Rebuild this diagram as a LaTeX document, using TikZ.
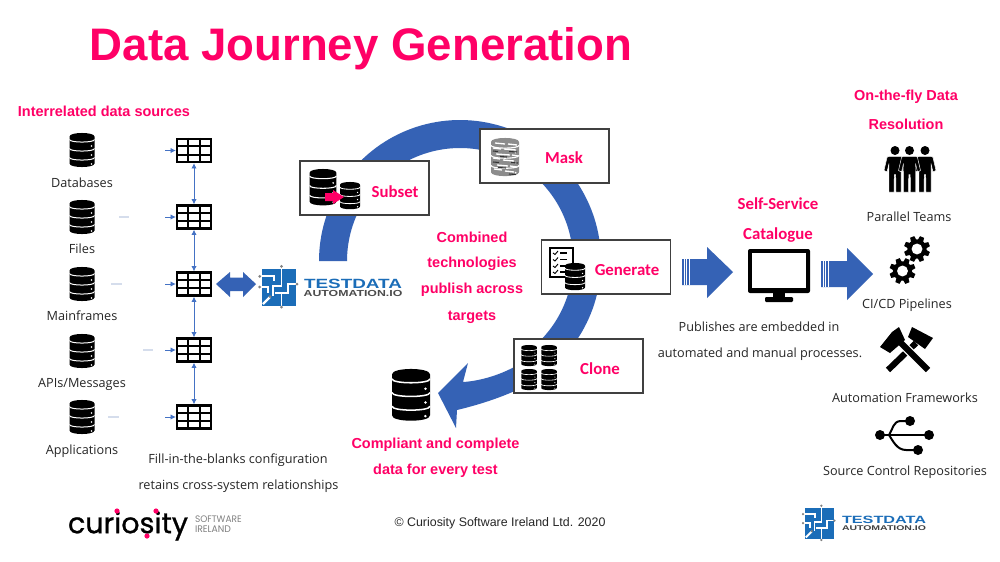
\documentclass[tikz,border=0pt]{standalone}
\usepackage{fontspec}
\usepackage{graphicx}
\usetikzlibrary{arrows.meta,calc}
\setmainfont{Carlito}
\newfontfamily\arialf{Liberation Sans}
\newfontfamily\uifont{Open Sans}
\newfontfamily\popf{Poppins}
\newfontfamily\popm[FakeBold=.9]{Poppins}
\definecolor{hotpink}{HTML}{FF0066}
\definecolor{ringblue}{HTML}{3562B5}
\definecolor{logoblue}{HTML}{1B6DB8}
\definecolor{linkblue}{HTML}{4472C4}
\definecolor{faintblue}{HTML}{D5DDEC}
\definecolor{boxgray}{HTML}{404040}
\tikzset{
  txt/.style={inner sep=0pt,outer sep=0pt,align=center},
  fixedline/.style={text height=1em,text depth=.2em},
  titletext/.style={txt,text=hotpink,font=\arialf\bfseries\fontsize{34.2}{40}\selectfont},
  pinkhead/.style={txt,fixedline,text=hotpink,font=\arialf\bfseries\fontsize{10.85}{13}\selectfont},
  pinkcal/.style={txt,fixedline,text=hotpink,font=\bfseries\fontsize{12.6}{16}\selectfont},
  plain/.style={txt,fixedline,text=black!85,font=\uifont\fontsize{9.5}{11}\selectfont},
  foot/.style={txt,text=black!85,font=\arialf\fontsize{9.3}{11}\selectfont},
  stagebox/.style={draw=boxgray,fill=white,line width=.9pt,minimum width=96.75pt,minimum height=40.5pt,inner sep=0pt},
  tablebox/.style={draw=black,fill=white,line width=1.7pt,minimum width=25.5pt,minimum height=17.25pt,inner sep=0pt,outer sep=.85pt},
  gridline/.style={black,line width=1.2pt},
  link/.style={linkblue,line width=.7pt,{Latex[length=4pt,width=4pt]}-{Latex[length=4pt,width=4pt]}},
  feed/.style={linkblue,line width=.6pt,-{Latex[length=4pt,width=4pt]}},
  faint/.style={faintblue,line width=.8pt},
  blueshape/.style={fill=ringblue,draw=none},
}
\newcommand\dbicon[4][black]{%
\begin{scope}[shift={(#2,#3)},scale=#4]
\fill[#1] (-12.5,3.5) .. controls (-12.5,-1.2) and (12.5,-1.2) .. (12.5,3.5) -- (12.5,30.5) .. controls (12.5,35.2) and (-12.5,35.2) .. (-12.5,30.5) -- cycle;
\foreach \yy in {6.5,15.5,24.5}{
\draw[white,line width=#4*.75pt] (-12.5,\yy) .. controls (-12.5,\yy+3.4) and (12.5,\yy+3.4) .. (12.5,\yy);
}
\end{scope}%
\begin{scope}[shift={(#2,#3)},scale=#4]
\foreach \yy in {13,22,31}{\fill[white] (9.5,\yy) circle (.9);}
\end{scope}}
\newcommand\tablenode[2]{%
\node[tablebox] (#1) at (194,#2) {};
\foreach \f in {0.333,0.667}{
\draw[gridline] ($(#1.north west)!\f!(#1.north east)$) -- ($(#1.south west)!\f!(#1.south east)$);
\draw[gridline] ($(#1.north west)!\f!(#1.south west)$) -- ($(#1.north east)!\f!(#1.south east)$);
}}
\newcommand\gearicon[3]{%
\begin{scope}[shift={(#1,#2)}]
\fill[black] (0,0) circle ({#3*.74});
\foreach \a in {0,45,...,315}{
\fill[black,rotate=\a+22] ({#3*.6},{-#3*.23}) -- ({#3},{-#3*.17}) -- ({#3},{#3*.17}) -- ({#3*.6},{#3*.23}) -- cycle;
}
\fill[white] (0,0) circle ({#3*.42});
\end{scope}}
\newcommand\personicon[2]{%
\begin{scope}[shift={(#1,#2)}]
\fill[black] (0,0) circle (4.5);
\filldraw[black,draw=white,line width=.35pt,line join=round] (-6.5,5.8) -- (6.5,5.8) -- (8,7) -- (11,20) -- (8,21.5) -- (6,13) -- (6,41.5) -- (1,41.5) -- (.7,24) -- (-.7,24) -- (-1,41.5) -- (-6,41.5) -- (-6,13) -- (-8,21.5) -- (-11,20) -- (-8,7) -- cycle;
\end{scope}}
\newcommand\tdalogo[3]{%
\begin{scope}[shift={(#1,#2)},scale=#3]
\fill[logoblue] (0,0) rectangle (34,37);
\begin{scope}[white,line width=#3*1.3pt]
\draw (19.5,-2.7) -- (19.5,16.7) -- (11,16.7) -- (11,27);
\draw (-2.3,7.3) -- (12,7.3) -- (12,12);
\draw (-2.3,18) -- (6,18) -- (6,24);
\draw (35,15) -- (26,15) -- (26,24) -- (13,24);
\draw (19.5,24) -- (19.5,38);
\draw[line width=#3*1.8pt] (1,35) -- (8,28);
\end{scope}
\foreach \p in {(19.5,-2.7),(-2.3,7.3),(-2.3,18),(35,15),(19.5,38),(8,27.5)}{
\fill[gray] \p circle (1.5);
}
\end{scope}}
\begin{document}
\begin{tikzpicture}[x=.75pt,y=-.75pt]
\useasboundingbox (0,0) rectangle (1000,561);
\fill[white] (0,0) rectangle (1000,561);

\node[titletext] (title) at (361,49) {Data Journey Generation};
\node[pinkhead] (srchead) at (104,111) {Interrelated data sources};

% data source column
\foreach \yy/\nm/\lab/\ly in {133/da/Databases/182,200/fi/Files/248,267/ma/Mainframes/315,334/ap/APIs\slash Messages/382,400/ad/Applications/449}{
\dbicon{82}{\yy}{1}
\node[plain] (\nm) at (82,\ly) {\lab};
}
\tablenode{t1}{150.5}
\tablenode{t2}{217}
\tablenode{t3}{284}
\tablenode{t4}{350}
\tablenode{t5}{417}
\draw[link] (t1) -- (t2);
\draw[link] (t2) -- (t3);
\draw[link] (t3) -- (t4);
\draw[link] (t4) -- (t5);
\foreach \i/\yy in {1/150.5,2/217,3/284,4/350,5/417}{
\coordinate (s\i) at (165,\yy);
\draw[feed] (s\i) -- (t\i);
}
\draw[faint] (119,217) -- (129,217);
\draw[faint] (111,284) -- (122,284);
\draw[faint] (143,350) -- (153,350);
\draw[faint] (108,417) -- (119,417);

% big double arrow
\fill[blueshape] (216,284) -- (230,272) -- (230,277.5) -- (243,277.5) -- (243,272) -- (256,284) -- (243,297) -- (243,291) -- (230,291) -- (230,297) -- cycle;

% logo
\tdalogo{262}{269}{1}
\node[txt] (logotop) at (353,283.5) {\resizebox{73.5pt}{7pt}{\color{logoblue}\arialf\bfseries TESTDATA}};
\node[txt] (logobot) at (353,293) {\resizebox{74pt}{4.6pt}{\color{black!70}\arialf\bfseries AUTOMATION.IO}};

% ring with arrow head
\fill[blueshape] plot[domain=180:425,samples=120] ({460+141*cos(\x)},{261+141*sin(\x)})
  .. controls (500,398) and (478,405) .. (457,410) -- (456,428) -- (438,393) -- (468,363) -- (463,382)
  .. controls (480,381) and (500,375) .. (516,366)
  -- plot[domain=422:180,samples=120] ({460+113*cos(\x)},{261+113*sin(\x)}) -- cycle;

% stage boxes
\node[stagebox] (subset) at (364.5,188) {};
\node[stagebox] (mask) at (544.5,156) {};
\node[stagebox] (generate) at (606,267) {};
\node[stagebox] (clone) at (578.5,366) {};
\node[pinkcal] (lsub) at (395,192) {Subset};
\node[pinkcal] (lmask) at (564,158) {Mask};
\node[pinkcal] (lgen) at (627,270) {Generate};
\node[pinkcal] (lclone) at (600,369) {Clone};

% subset icon
\dbicon{323}{169}{1.07}
\dbicon{350}{182}{.8}
\fill[hotpink] (325,193) -- (333,193) -- (333,190) -- (344,197) -- (333,204) -- (333,201) -- (325,201) -- cycle;

% mask icon
\dbicon[black!45]{505}{138}{1.12}
\foreach \a/\b/\c in {495/505/143,508/517/144,493/501/148,504/516/149,496/510/154,512/518/155,493/500/158,503/514/160,497/508/165,510/517/166,494/502/169,505/514/171}{
\draw[white,line width=1pt] (\a,\c) -- (\b,\c+1);
}
\foreach \a/\b/\c in {493/498/151,509/517/151.5,500/507/156.5,493/499/162,511/518/162.5,498/506/167.5,509/516/174}{
\draw[black!80,line width=.8pt] (\a,\c) -- (\b,\c+.5);
}

% generate icon
\draw[black,fill=white,line width=1.3pt] (550,248) rectangle (573,277);
\foreach \yy in {253,259.5,266,272}{
\draw[black,line width=.7pt] (553,\yy) -- (555,\yy+1.5) -- (558,\yy-2);
\draw[black,line width=.8pt] (560,\yy) -- (567,\yy);
}
\dbicon{575}{263}{.8}

% clone icons
\dbicon{529}{345}{.62}
\dbicon{549}{345}{.62}
\dbicon{529}{369}{.62}
\dbicon{549}{369}{.62}

\node[pinkhead] (c1) at (472,237) {Combined};
\node[pinkhead] (c2) at (472,262) {technologies};
\node[pinkhead] (c3) at (472,288) {publish across};
\node[pinkhead] (c4) at (472,315) {targets};

\dbicon{411}{369}{1.52}
\node[pinkhead] (d1) at (435.5,443) {Compliant and complete};
\node[pinkhead] (d2) at (435.5,469) {data for every test};

\node[plain] (f1) at (238,458) {Fill-in-the-blanks configuration};
\node[plain] (f2) at (238.5,484) {retains cross-system relationships};

% catalogue arrows
\fill[blueshape] (682,259) -- (707,259) -- (707,247) -- (733,272) -- (707,298) -- (707,285) -- (682,285) -- cycle;
\fill[blueshape] (821,261) -- (847,261) -- (847,248) -- (873,274) -- (847,300) -- (847,287) -- (821,287) -- cycle;
\foreach \xx in {684,686.5,689}{\draw[white,line width=.3pt] (\xx,259) -- (\xx,285);}
\foreach \xx in {823,825.5,828}{\draw[white,line width=.3pt] (\xx,261) -- (\xx,287);}

\node[pinkcal] (s1l) at (778,204) {Self-Service};
\node[pinkcal] (s2l) at (778,234) {Catalogue};

% monitor
\fill[black,rounded corners=1.5pt] (748,249) rectangle (810,293);
\fill[white] (752,253) rectangle (806,288);
\fill[black] (773,293) rectangle (785,298);
\fill[black,rounded corners=.8pt] (765,297) rectangle (793,302);

\node[plain] (p1) at (759,326) {Publishes are embedded in};
\node[plain] (p2) at (760,352) {automated and manual processes.};

% right column
\node[pinkhead] (o1) at (906,95) {On-the-fly Data};
\node[pinkhead] (o2) at (906,124) {Resolution};
\personicon{895}{150.5}
\personicon{925}{150.5}
\personicon{909.5}{150.5}
\node[plain] (r1) at (909,216) {Parallel Teams};
\gearicon{902.5}{271}{13}
\gearicon{917}{249}{13}
\node[plain] (r2) at (907,303) {CI/CD Pipelines};
% hammers
\draw[black,line width=4.6pt] (888,370) -- (916,343);
\fill[black] (912,327) -- (933,338) -- (925,349) -- (908,337) -- cycle;
\draw[white,line width=6.4pt] (928,370) -- (896,338);
\draw[black,line width=4.6pt] (928,370) -- (896,338);
\fill[black] (880,347) -- (892,332) -- (899,327) -- (905,340) -- (890,353) -- cycle;
\node[plain] (r3) at (905,397) {Automation Frameworks};
% usb
\draw[black,line width=1.5pt] (880,435) -- (929,435);
\draw[black,line width=1.5pt] (889,435) .. controls (893,429) and (893,421) .. (901,421) -- (910,421);
\draw[black,line width=1.5pt] (889,435) .. controls (893,441) and (897,450) .. (906,450) -- (918,450);
\fill[black] (880,435) circle (5);
\fill[black] (929,435) circle (5);
\fill[black] (910,421) circle (5);
\fill[black] (918,450) circle (5);
\node[plain] (r4) at (905,470) {Source Control Repositories};

% footer
\node[foot] (copy) at (500,523) {© Curiosity Software Ireland Ltd. 2020};
\node[txt,anchor=west] (cur) at (68,526) {\resizebox{90pt}{!}{\popm curiosity}};
\fill[hotpink] (117,511) circle (2.6);
\fill[hotpink] (156,511) circle (2.6);
\fill[hotpink] (147,536) circle (2.6);
\node[txt,anchor=west,text=black!50] (sw1) at (195,519) {\resizebox{35pt}{5pt}{\popf SOFTWARE}};
\node[txt,anchor=west,text=black!50] (sw2) at (195,529) {\resizebox{27pt}{5pt}{\popf IRELAND}};
\tdalogo{805}{508}{.84}
\node[txt] (logotop2) at (884,519.5) {\resizebox{63pt}{5.5pt}{\color{logoblue}\arialf\bfseries TESTDATA}};
\node[txt] (logobot2) at (884,528.5) {\resizebox{63pt}{3.6pt}{\color{black!75}\arialf\bfseries AUTOMATION.IO}};
\end{tikzpicture}
\end{document}
